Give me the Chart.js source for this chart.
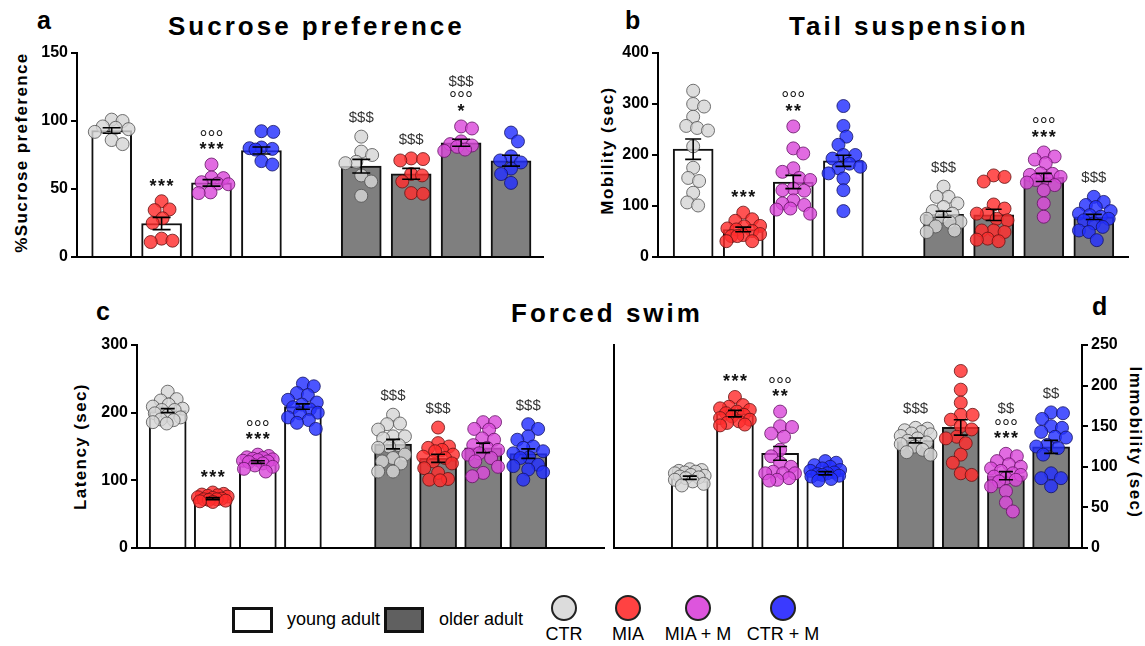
<!DOCTYPE html>
<html><head><meta charset="utf-8">
<script src="https://cdn.jsdelivr.net/npm/chart.js@4.4.1/dist/chart.umd.min.js"></script>
<style>
html,body{margin:0;padding:0;background:#fff;}
#wrap{position:relative;width:1145px;height:646px;overflow:hidden;font-family:'Liberation Sans',Arial,sans-serif;color:#000;background:#fff;}
canvas{position:absolute;}
.t{position:absolute;white-space:nowrap;line-height:1;}
.title{font-weight:bold;font-size:26px;letter-spacing:3px;}
.letter{font-weight:bold;font-size:25px;}
.ytitle{font-weight:bold;font-size:17px;letter-spacing:1.4px;width:260px;text-align:center;}
.leg{font-size:18px;}
.box{position:absolute;box-sizing:border-box;border:3px solid #111;}
.dot{position:absolute;box-sizing:border-box;border:2px solid #222;border-radius:50%;}
</style></head><body><div id="wrap">
<div class="t letter" style="left:37px;top:8px;">a</div>
<div class="t title" style="left:168px;top:13px;">Sucrose preference</div>
<div class="t letter" style="left:625px;top:8px;">b</div>
<div class="t title" style="left:789px;top:13px;">Tail suspension</div>
<div class="t letter" style="left:96px;top:299px;">c</div>
<div class="t title" style="left:511px;top:300px;">Forced swim</div>
<div class="t letter" style="left:1092px;top:294px;">d</div>
<div class="t ytitle" style="left:-109px;top:144px;transform:rotate(-90deg);">%Sucrose preference</div>
<div class="t ytitle" style="left:477px;top:142px;transform:rotate(-90deg);">Mobility (sec)</div>
<div class="t ytitle" style="left:-50px;top:438px;transform:rotate(-90deg);">Latency (sec)</div>
<div class="t ytitle" style="left:1005px;top:434px;transform:rotate(90deg);">Immobility (sec)</div>
<div id="legend"></div>
</div>
<script>
// ---------- DATA ----------
const groupNames = ['CTR', 'MIA', 'MIA + M', 'CTR + M'];
const ageNames = ['young adult', 'older adult'];

// a: Sucrose preference (%), order: young CTR, MIA, MIA+M, CTR+M, older CTR, MIA, MIA+M, CTR+M
const sucroseTicks = [0, 50, 100, 150];
const sucroseMean = [93, 24.6, 54.5, 78.3, 66.8, 61.2, 84, 70.8];
const sucroseSem = [2, 4.5, 2.4, 2.6, 5, 4, 2.6, 4];
const sucrosePoints = [
  [101, 100, 96, 95, 94, 92, 86, 83],
  [41, 35, 34.5, 28.5, 25, 13.5, 12, 11],
  [68, 58.5, 58, 55, 54, 53.5, 47.5, 47],
  [92.5, 92, 80.5, 80, 79.5, 79, 70.5, 68],
  [88.5, 77.5, 75, 70, 69, 60, 55.5, 45],
  [72.5, 72, 71, 61, 60, 55.5, 47, 46.5],
  [96, 94.5, 85, 83, 82, 81, 79, 78],
  [91.5, 85, 74, 71, 69.5, 65, 61, 54.5]
];
const sucroseMarks = [[], ['***'], ['***', '°°°'], [], ['$$$'], ['$$$'], ['*', '°°°', '$$$'], []];

// b: Tail suspension, mobility (sec)
const tailTicks = [0, 100, 200, 300, 400];
const tailMean = [211.5, 54, 147, 188.6, 83.8, 82.5, 156, 78.6];
const tailSem = [20, 4.5, 13, 11, 6, 11, 8, 5];
const tailPoints = [
  [326, 300, 295, 275, 257, 253, 248, 217, 175, 155, 149, 126, 107, 101],
  [87, 74, 71, 61, 60, 56, 54, 51, 45, 43, 41, 41, 31, 31],
  [256, 213, 203, 174, 167, 155, 151, 134, 131, 130, 111, 105, 102, 95, 93, 85],
  [296, 257, 236, 220, 200, 200, 193, 183, 177, 174, 164, 154, 131, 90],
  [138, 118, 118, 105, 98, 90, 85, 79, 75, 69, 69, 60, 52, 49],
  [160, 157, 148, 103, 95, 85, 85, 75, 72, 52, 52, 49, 36, 34, 31],
  [205, 197, 191, 184, 164, 163, 161, 157, 154, 151, 146, 141, 131, 105, 79],
  [118, 108, 102, 98, 90, 85, 82, 79, 75, 72, 66, 59, 52, 49, 33]
];
const tailMarks = [[], ['***'], ['**', '°°°'], [], ['$$$'], [], ['***', '°°°'], ['$$$']];

// c: Forced swim, latency (sec)
const latencyTicks = [0, 100, 200, 300];
const latencyMean = [203, 73, 127, 209, 153.5, 132.5, 148, 139.5];
const latencySem = [3, 1.5, 2, 4, 7, 6, 7, 7];
const latencyPoints = [
  [231, 220, 218, 212, 209, 206, 204, 204, 199, 196, 193, 190, 189, 186, 184],
  [82, 80, 79, 78, 77, 76, 75, 74, 73, 72, 72, 71, 70, 69, 68],
  [138, 136, 134, 133, 132, 131, 130, 129, 128, 127, 125, 122, 120, 117, 113],
  [243, 239, 229, 226, 219, 215, 212, 208, 205, 200, 199, 193, 189, 185, 176],
  [197, 184, 183, 175, 165, 165, 162, 152, 150, 148, 138, 133, 128, 125, 113, 113],
  [178, 155, 150, 148, 145, 143, 138, 135, 133, 128, 125, 118, 111, 102, 101, 100],
  [186, 186, 176, 175, 162, 160, 152, 148, 145, 140, 138, 133, 128, 120, 111, 106],
  [183, 176, 165, 160, 150, 148, 143, 140, 134, 133, 123, 121, 116, 112, 101]
];
const latencyMarks = [[], ['***'], ['***', '°°°'], [], ['$$$'], ['$$$'], [], ['$$$']];

// d: Forced swim, immobility (sec)
const immobilityTicks = [0, 50, 100, 150, 200, 250];
const immobilityMean = [86.5, 165.5, 116.5, 92, 132.5, 148.5, 89, 124.5];
const immobilitySem = [2, 4, 8.5, 2, 3, 9.5, 5, 8];
const immobilityPoints = [
  [97, 96, 95, 94, 93, 92, 90, 89, 88, 87, 86, 84, 82, 79, 77],
  [186, 176, 174, 172, 170, 168, 166, 164, 162, 160, 158, 156, 154, 152, 151],
  [168, 150, 149, 141, 137, 121, 113, 105, 100, 94, 92, 92, 92, 86, 84, 83],
  [107, 105, 102, 100, 98, 96, 95, 93, 92, 91, 90, 89, 88, 85, 83],
  [148, 147, 145, 143, 141, 140, 138, 135, 132, 130, 128, 125, 121, 118, 115],
  [218, 195, 179, 164, 164, 158, 150, 146, 137, 135, 129, 115, 105, 92, 90],
  [116, 113, 107, 103, 100, 98, 95, 92, 90, 88, 86, 84, 82, 76, 70, 56, 45],
  [167, 166, 159, 150, 148, 143, 137, 136, 127, 125, 123, 115, 92, 86, 86, 76]
];
const immobilityMarks = [[], ['***'], ['**', '°°°'], [], ['$$$'], [], ['***', '°°°', '$$'], ['$$']];

// ---------- STYLE ----------
const FONT = "'Liberation Sans', Arial, sans-serif";
const slots = [0, 1, 2, 3, 5, 6, 7, 8];
const pointFill = ['rgba(214,214,214,0.82)', 'rgba(255,45,45,0.82)', 'rgba(218,74,218,0.82)', 'rgba(35,48,255,0.82)'];
const pointLine = ['rgba(80,80,80,0.8)', 'rgba(100,20,20,0.8)', 'rgba(100,20,100,0.8)', 'rgba(20,20,100,0.8)'];
const barFill = ['#ffffff', '#7f7f7f'];
const R = 6.5;

function swarm(vals, pxY, pxX, maxOff) {
  const off = new Array(vals.length).fill(0), placed = [];
  const order = [...vals.keys()].sort((a, b) => vals[b] - vals[a]);
  const minD = 2 * R * 0.85;
  let flip = 1;
  for (const i of order) {
    const py = vals[i] * pxY;
    const cands = [0];
    for (let k = 1; k <= maxOff; k++) cands.push(k * flip, -k * flip);
    let chosen = null, best = -1, bestC = 0;
    for (const c of cands) {
      let md = Infinity;
      for (const p of placed) { const d = Math.hypot(p.x - c, p.y - py); if (d < md) md = d; }
      if (md >= minD) { chosen = c; break; }
      if (md > best) { best = md; bestC = c; }
    }
    if (chosen === null) chosen = bestC;
    if (chosen !== 0) flip = -Math.sign(chosen);
    placed.push({ x: chosen, y: py });
    off[i] = chosen / pxX;
  }
  return off;
}

const errPlugin = {
  id: 'err',
  afterDatasetsDraw(chart) {
    const o = chart.options.plugins.err; if (!o) return;
    const { ctx } = chart, x = chart.scales.x, y = chart.scales.y;
    ctx.save(); ctx.strokeStyle = '#000'; ctx.lineWidth = 1.6;
    o.means.forEach((m, i) => {
      const cx = x.getPixelForValue(slots[i]);
      const y1 = y.getPixelForValue(m - o.sems[i]), y2 = y.getPixelForValue(m + o.sems[i]);
      ctx.beginPath();
      ctx.moveTo(cx, y1); ctx.lineTo(cx, y2);
      ctx.moveTo(cx - o.cap / 2, y1); ctx.lineTo(cx + o.cap / 2, y1);
      ctx.moveTo(cx - o.cap / 2, y2); ctx.lineTo(cx + o.cap / 2, y2);
      ctx.stroke();
    });
    ctx.restore();
  }
};

function markStyle(t) {
  if (t[0] === '*') return { font: 'bold 18px ' + FONT, color: '#111', dy: 4, ls: 1.5 };
  if (t[0] === '°') return { font: '20px ' + FONT, color: '#222', dy: 5, ls: 0 };
  return { font: '15px ' + FONT, color: '#333', dy: 0, ls: 0 };
}
const markPlugin = {
  id: 'marks',
  afterDatasetsDraw(chart) {
    const o = chart.options.plugins.marks; if (!o) return;
    const { ctx } = chart, x = chart.scales.x, y = chart.scales.y;
    ctx.save(); ctx.textAlign = 'center'; ctx.textBaseline = 'middle';
    o.marks.forEach((lines, i) => {
      if (!lines.length) return;
      const cx = x.getPixelForValue(slots[i]);
      let yy = y.getPixelForValue(Math.max(...o.pts[i])) - R - 12;
      lines.forEach((t, k) => {
        if (k > 0) yy -= (t[0] === '°' ? 12 : t[0] === '$' ? 14 : 13);
        const s = markStyle(t);
        ctx.font = s.font; ctx.fillStyle = s.color;
        try { ctx.letterSpacing = s.ls + 'px'; } catch (e) {}
        ctx.fillText(t, cx + s.ls / 2, yy + s.dy);
      });
    });
    ctx.restore();
  }
};

function makePanel(g) {
  const axisW = 60, padT = 14, padB = 14, side = 3;
  let cl, cw, pad;
  if (g.side === 'left') { cl = g.left - axisW; cw = g.right - cl + side; pad = { left: 0, right: side, top: padT, bottom: padB }; }
  else { cl = g.left - side; cw = g.right + axisW - cl; pad = { left: side, right: 0, top: padT, bottom: padB }; }
  const ct = g.top - padT, ch = g.bottom - g.top + padT + padB;
  const cv = document.createElement('canvas');
  cv.width = cw; cv.height = ch;
  cv.style.left = cl + 'px'; cv.style.top = ct + 'px'; cv.style.width = cw + 'px'; cv.style.height = ch + 'px';
  document.getElementById('wrap').appendChild(cv);

  const pxY = (g.bottom - g.top) / g.ticks[g.ticks.length - 1];
  const datasets = [{
    type: 'bar', order: 5,
    data: g.mean.map((m, i) => ({ x: slots[i], y: m })),
    backgroundColor: g.mean.map((m, i) => barFill[i < 4 ? 0 : 1]),
    borderColor: '#111', borderWidth: 2, barThickness: g.barW
  }];
  g.pts.forEach((vals, i) => {
    const off = swarm(vals, pxY, g.step, g.barW / 2 - 3);
    datasets.push({
      type: 'scatter', order: 1, clip: false,
      data: vals.map((v, j) => ({ x: slots[i] + off[j], y: v })),
      pointRadius: R, pointBorderWidth: 1,
      backgroundColor: pointFill[i % 4], borderColor: pointLine[i % 4]
    });
  });
  const tickFont = { family: FONT, size: 16, weight: 'bold' };
  const yScale = {
    type: 'linear', position: g.side, min: 0, max: g.ticks[g.ticks.length - 1],
    afterBuildTicks: s => { s.ticks = g.ticks.map(v => ({ value: v })); },
    afterFit: s => { s.width = axisW; },
    ticks: { font: tickFont, color: '#000', padding: 3 },
    grid: { display: true, drawOnChartArea: false, drawTicks: true, tickLength: 6, color: '#000', lineWidth: 2 },
    border: { display: true, color: '#000', width: 2 }
  };
  const scales = {
    x: {
      type: 'linear', offset: false, min: (g.left - g.x0) / g.step, max: (g.right - g.x0) / g.step,
      afterFit: s => { s.height = 0; },
      ticks: { display: false }, grid: { display: false, offset: false },
      border: { display: true, color: '#000', width: 2 }
    },
    y: yScale
  };
  if (g.divider) {
    scales.yl = {
      type: 'linear', position: 'left', min: 0, max: 1, afterFit: s => { s.width = 0; },
      ticks: { display: false }, grid: { display: false },
      border: { display: true, color: '#000', width: 2 }
    };
  }
  new Chart(cv, {
    data: { datasets },
    options: {
      responsive: false, animation: false, devicePixelRatio: 1, events: [],
      layout: { padding: pad },
      scales,
      plugins: {
        legend: { display: false }, tooltip: { enabled: false },
        err: { means: g.mean, sems: g.sem, cap: g.cap },
        marks: { marks: g.marks, pts: g.pts }
      }
    },
    plugins: [errPlugin, markPlugin]
  });
}

makePanel({ left: 77, right: 548, top: 53, bottom: 257, ticks: sucroseTicks, x0: 112, step: 50.4, barW: 40, cap: 18, side: 'left',
  mean: sucroseMean, sem: sucroseSem, pts: sucrosePoints, marks: sucroseMarks });
makePanel({ left: 658, right: 1133, top: 53, bottom: 257, ticks: tailTicks, x0: 693.5, step: 50.56, barW: 40, cap: 16, side: 'left',
  mean: tailMean, sem: tailSem, pts: tailPoints, marks: tailMarks });
makePanel({ left: 137, right: 609, top: 345, bottom: 548, ticks: latencyTicks, x0: 168, step: 45.5, barW: 37, cap: 14, side: 'left',
  mean: latencyMean, sem: latencySem, pts: latencyPoints, marks: latencyMarks });
makePanel({ left: 609, right: 1082, top: 345, bottom: 548, ticks: immobilityTicks, x0: 686, step: 45.6, barW: 37, cap: 14, side: 'right', divider: true,
  mean: immobilityMean, sem: immobilitySem, pts: immobilityPoints, marks: immobilityMarks });

// ---------- LEGEND ----------
(function () {
  const L = document.getElementById('legend');
  const add = (html) => L.insertAdjacentHTML('beforeend', html);
  add(`<div class="box" style="left:232px;top:607px;width:41px;height:26px;background:${barFill[0]}"></div>`);
  add(`<div class="t leg" style="left:287px;top:610px;">${ageNames[0]}</div>`);
  add(`<div class="box" style="left:384px;top:607px;width:40px;height:26px;background:#606060"></div>`);
  add(`<div class="t leg" style="left:439px;top:610px;">${ageNames[1]}</div>`);
  const cx = [564, 628, 698, 783];
  const legFill = ['#dcdcdc', '#ff4242', '#dd55dd', '#3a3aff'];
  groupNames.forEach((n, i) => {
    add(`<div class="dot" style="left:${cx[i] - 13}px;top:595px;width:26px;height:26px;background:${legFill[i]}"></div>`);
    add(`<div class="t leg" style="left:${cx[i] - 60}px;top:625px;width:120px;text-align:center;">${n}</div>`);
  });
})();
</script>
</body></html>
